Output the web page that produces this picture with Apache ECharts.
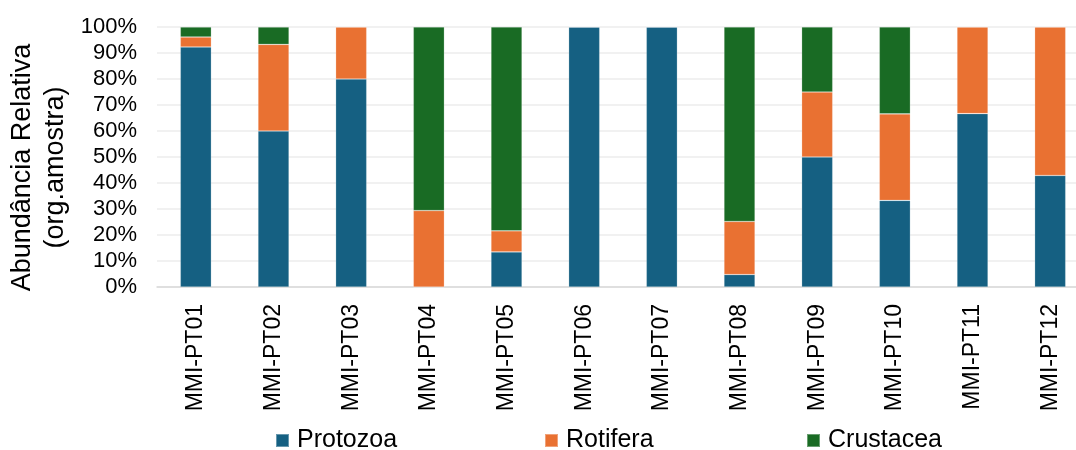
<!DOCTYPE html>
<html>
<head>
<meta charset="utf-8">
<script src="https://cdn.jsdelivr.net/npm/echarts@6/dist/echarts.min.js"></script>
<style>
html,body{margin:0;padding:0;background:#fff;}
#chart{width:1076px;height:450px;}
</style>
</head>
<body>
<div id="chart"></div>
<script>
var categories = ['MMI-PT01','MMI-PT02','MMI-PT03','MMI-PT04','MMI-PT05','MMI-PT06','MMI-PT07','MMI-PT08','MMI-PT09','MMI-PT10','MMI-PT11','MMI-PT12'];
var protozoa  = [92.3, 60.0, 80.0,  0.0, 13.5, 100, 100,  4.8, 50.0, 33.3, 66.7, 42.9];
var rotifera  = [ 3.85, 33.3, 20.0, 29.4,  8.1,   0,   0, 20.4, 25.0, 33.3, 33.3, 57.1];
var crustacea = [ 3.85,  6.7,  0.0, 70.6, 78.4,   0,   0, 74.8, 25.0, 33.4,  0.0,  0.0];
var yTicks = [0,10,20,30,40,50,60,70,80,90,100];
var seriesNames = ['Protozoa','Rotifera','Crustacea'];
var colors = ['#156082','#E97132','#196B24'];
var titleLines = ['Abundância Relativa', '(org.amostra)'];

var font = 'Liberation Sans, Arial, sans-serif';
var chart = echarts.init(document.getElementById('chart'), null, {renderer:'canvas'});
function mk(name, data, color){
  return {name:name, type:'bar', stack:'total', data:data, barWidth:'40%',
    itemStyle:{color:color, borderColor:'rgba(255,255,255,0.35)', borderWidth:0.6}};
}
function legendAt(left, name){
  return {data:[name], left:left, top:428, itemWidth:13, itemHeight:13, itemGap:0, padding:0,
    icon:'rect', textStyle:{fontFamily:font, fontSize:25, color:'#000', padding:[0,0,0,3]}};
}
function titleText(str, cx, cy){
  return {type:'text', x:cx, y:cy, rotation:Math.PI/2,
    style:{text:str, fontFamily:font, fontSize:27, fill:'#000', align:'center', verticalAlign:'middle'}};
}
chart.setOption({
  animation:false,
  color:colors,
  legend:[legendAt(275,'Protozoa'), legendAt(544,'Rotifera'), legendAt(806,'Crustacea')],
  grid:{left:157, right:-13, top:27, bottom:163, containLabel:false, outerBoundsMode:'none'},
  graphic:[titleText(titleLines[0], 23, 167.5), titleText(titleLines[1], 55.5, 167.5)],
  xAxis:{type:'category', data:categories,
    axisLine:{lineStyle:{color:'#d9d9d9', width:1.5}},
    axisTick:{show:false},
    axisLabel:{rotate:90, margin:17, fontFamily:font, fontSize:23, color:'#000', interval:0}},
  yAxis:{type:'value', min:0, max:100, interval:10,
    axisLine:{show:false}, axisTick:{show:false},
    splitLine:{lineStyle:{color:'#ececec', width:1.5}},
    axisLabel:{formatter:function(v){return v+'%';}, margin:20, fontFamily:font, fontSize:22, color:'#000'}},
  series:[mk(seriesNames[0], protozoa, colors[0]), mk(seriesNames[1], rotifera, colors[1]), mk(seriesNames[2], crustacea, colors[2])]
});
</script>
</body>
</html>
